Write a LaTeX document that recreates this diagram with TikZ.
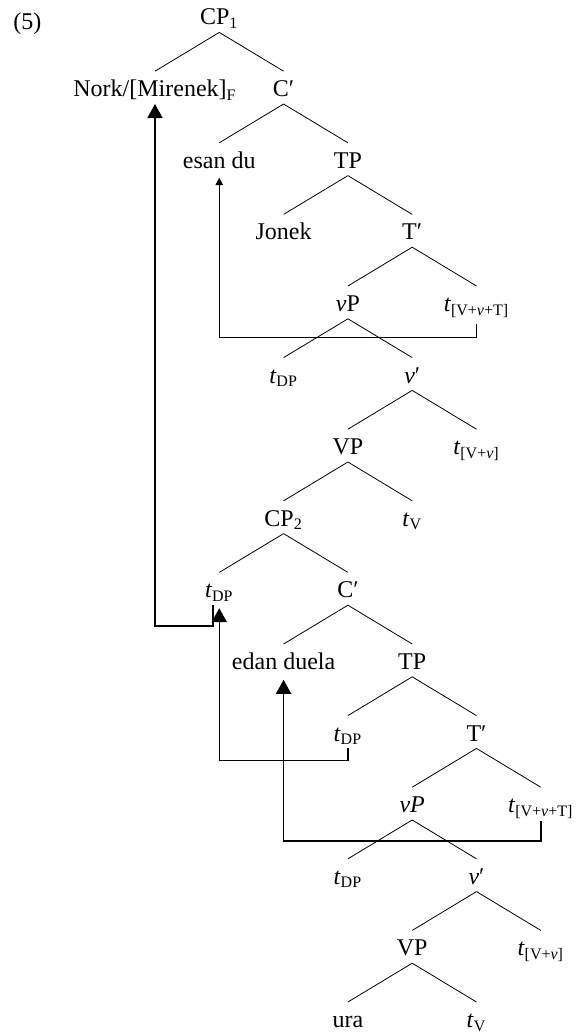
\documentclass[tikz,border=0pt]{standalone}
\usepackage{fontspec}
\setmainfont{Liberation Serif}
\usetikzlibrary{arrows.meta}

\begin{document}
\begin{tikzpicture}[x=32.15pt,y=-35.8pt,
        w/.style={anchor=base,font=\fontsize{12}{14}\selectfont,
            text height=9pt,text depth=0pt,inner ysep=3.5pt,inner xsep=1pt},
        br/.style={line width=0.4pt},
        mv/.style={line width=0.8pt,-{Triangle[length=7pt,width=7.5pt]}},
        mvthin/.style={line width=0.5pt,-{Triangle[length=3.8pt,width=3.8pt]}}]
        \useasboundingbox (-77.5pt,12.5pt) rectangle (210.5pt,-504pt);
        \node[anchor=base west,inner sep=0pt,font=\fontsize{12}{14}\selectfont] (ex) at (-71pt,-2pt) {(5)};
        % upper clause
        \node[w] (cp1) at (1,0) {CP\textsubscript{1}};
        \node[w] (nork) at (0,1) {Nork/[Mirenek]\textsubscript{F}};
        \node[w] (c1) at (2,1) {C′};
        \node[w] (esan) at (1,2) {esan du};
        \node[w] (tp1) at (3,2) {TP};
        \node[w] (jonek) at (2,3) {Jonek};
        \node[w] (tb1) at (4,3) {T′};
        \node[w] (vp1) at (3,4) {\textit{ν}P};
        \node[w] (tvvt1) at (5,4) {\textit{t}\textsubscript{[V+\textit{ν}+T]}};
        \node[w] (tdp1) at (2,5) {\textit{t}\textsubscript{DP}};
        \node[w] (vb1) at (4,5) {\textit{ν}′};
        \node[w] (bvp1) at (3,6) {VP};
        \node[w] (tvv1) at (5,6) {\textit{t}\textsubscript{[V+\textit{ν}]}};
        % embedded clause
        \node[w] (cp2) at (2,7) {CP\textsubscript{2}};
        \node[w] (tv1) at (4,7) {\textit{t}\textsubscript{V}};
        \node[w] (tdp2) at (1,8) {\textit{t}\textsubscript{DP}};
        \node[w] (c2) at (3,8) {C′};
        \node[w] (edan) at (2,9) {edan duela};
        \node[w] (tp2) at (4,9) {TP};
        \node[w] (tdp3) at (3,10) {\textit{t}\textsubscript{DP}};
        \node[w] (tb2) at (5,10) {T′};
        \node[w] (vp2) at (4,11) {\textit{νP}};
        \node[w] (tvvt2) at (6,11) {\textit{t}\textsubscript{[V+\textit{ν}+T]}};
        \node[w] (tdp4) at (3,12) {\textit{t}\textsubscript{DP}};
        \node[w] (vb2) at (5,12) {\textit{ν}′};
        \node[w] (bvp2) at (4,13) {VP};
        \node[w] (tvv2) at (6,13) {\textit{t}\textsubscript{[V+\textit{ν}]}};
        \node[w] (ura) at (3,14) {ura};
        \node[w] (tv2) at (5,14) {\textit{t}\textsubscript{V}};
        % branches
        \draw[br] (cp1.south) -- (nork.north) (cp1.south) -- (c1.north);
        \draw[br] (c1.south) -- (esan.north) (c1.south) -- (tp1.north);
        \draw[br] (tp1.south) -- (jonek.north) (tp1.south) -- (tb1.north);
        \draw[br] (tb1.south) -- (vp1.north) (tb1.south) -- (tvvt1.north);
        \draw[br] (vp1.south) -- (tdp1.north) (vp1.south) -- (vb1.north);
        \draw[br] (vb1.south) -- (bvp1.north) (vb1.south) -- (tvv1.north);
        \draw[br] (bvp1.south) -- (cp2.north) (bvp1.south) -- (tv1.north);
        \draw[br] (cp2.south) -- (tdp2.north) (cp2.south) -- (c2.north);
        \draw[br] (c2.south) -- (edan.north) (c2.south) -- (tp2.north);
        \draw[br] (tp2.south) -- (tdp3.north) (tp2.south) -- (tb2.north);
        \draw[br] (tb2.south) -- (vp2.north) (tb2.south) -- (tvvt2.north);
        \draw[br] (vp2.south) -- (tdp4.north) (vp2.south) -- (vb2.north);
        \draw[br] (vb2.south) -- (bvp2.north) (vb2.south) -- (tvv2.north);
        \draw[br] (bvp2.south) -- (ura.north) (bvp2.south) -- (tv2.north);
        % movement
        \draw[mvthin] ([yshift=-2.5pt]tvvt1.south) -- ++(0,-7pt) -| ([yshift=-1pt]esan.south);
        \draw[mv] ([xshift=-3pt]tdp2.south) -- ++(0,-10.5pt) -| (nork.south);
        \draw[mv] (tdp3.south) -- ++(0,-6pt) -| ([yshift=-1.5pt]tdp2.south);
        \draw[mv] ([yshift=-0.5pt]tvvt2.south) -- ++(0,-10pt) -| ([yshift=-1.5pt]edan.south);
    \end{tikzpicture}
\end{document}
